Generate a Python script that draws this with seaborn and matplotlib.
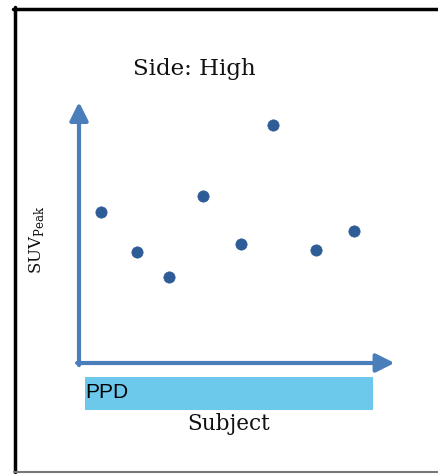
from matplotlib import pyplot as plt
from matplotlib.lines import Line2D
from matplotlib.patches import Rectangle
import seaborn as sns

# subject positions along the x axis and their SUV peak values (relative units)
subject_x = [0.69, 1.86, 2.87, 3.95, 5.17, 6.19, 7.54, 8.76]
suv_peak = [5.79, 4.25, 3.30, 6.40, 4.56, 9.12, 4.33, 5.06]

W, H = 438, 474
sns.set_style("white")
fig = plt.figure(figsize=(W / 100, H / 100), dpi=100)


def fx(px):
    return px / W


def fy(py):
    return 1 - py / H


ax = fig.add_axes([fx(79), fy(363), (393 - 79) / W, (363 - 102) / H])
sns.scatterplot(x=subject_x, y=suv_peak, ax=ax, color='#2E5C96',
                edgecolor='#2E5C96', s=66, linewidth=0.5)
ax.set_xlim(0, 10)
ax.set_ylim(0, 10)
ax.set_xticks([])
ax.set_yticks([])
for sp in ax.spines.values():
    sp.set_visible(False)

axis_color = '#4A7EBB'
arrow = dict(arrowstyle='-|>,head_length=1.1,head_width=0.55', color=axis_color,
             lw=3, shrinkA=0, shrinkB=0, mutation_scale=10)
ax.annotate('', xy=(0, 1), xytext=(0, -0.008), xycoords='axes fraction',
            arrowprops=arrow, annotation_clip=False)
ax.annotate('', xy=(1.005, 0), xytext=(-0.006, 0), xycoords='axes fraction',
            arrowprops=arrow, annotation_clip=False)

# title, labels
serif = 'DejaVu Serif'
fig.text(fx(194), fy(69), 'Side: High', family=serif, fontsize=16.5,
         ha='center', va='center', color='#111111')
fig.text(fx(229), fy(424), 'Subject', family=serif, fontsize=15.5,
         ha='center', va='center', color='#111111')
fig.text(fx(37), fy(240), r'SUV$_{\mathregular{Peak}}$', family=serif,
         fontsize=12, rotation=90, ha='center', va='center', color='#111111')

# PPD box
fig.add_artist(Rectangle((fx(85), fy(410)), (373 - 85) / W, (410 - 377) / H,
                         transform=fig.transFigure, facecolor='#6DC9EC',
                         edgecolor='none'))
fig.text(fx(85), fy(392), 'PPD', family='Liberation Sans', fontsize=15,
         ha='left', va='center', color='black')

# outer frame
fig.add_artist(Line2D([fx(14.5), fx(14.5)], [fy(7), fy(472)], color='black', lw=2.5))
fig.add_artist(Line2D([fx(13), fx(438)], [fy(8.5), fy(8.5)], color='black', lw=2.5))
fig.add_artist(Line2D([fx(14), fx(438)], [fy(472), fy(472)], color='#777777', lw=1.5))

fig.savefig('out.png', dpi=100)
